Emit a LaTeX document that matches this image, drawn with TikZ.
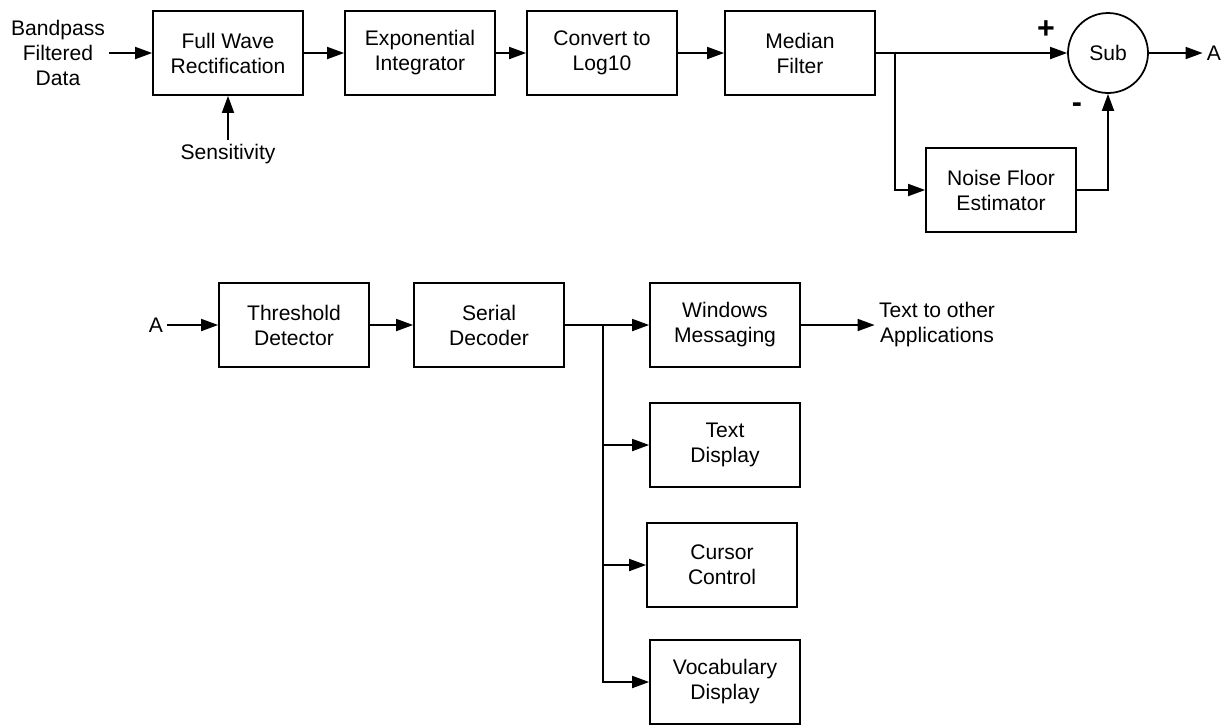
\documentclass[tikz,border=0pt]{standalone}
\usepackage{fontspec}
\setmainfont{Liberation Sans}
\usetikzlibrary{arrows.meta}
\tikzset{>={Triangle[length=0.34cm,width=0.24cm]}}
\tikzset{block/.style={draw,line width=1pt,minimum width=3cm,minimum height=1.68cm,align=center},
         lbl/.style={align=center,inner sep=2pt},
         every node/.style={font=\fontsize{12}{14.2}\selectfont}}

\begin{document}
\begin{tikzpicture}[x=0.02cm,y=-0.02cm,line width=1pt]
\useasboundingbox (0,0) rectangle (1227,725);
\node[lbl] (input) at (58,53) {Bandpass\\Filtered\\Data};
\node[block] (fwr) at (228,53) {Full Wave\\Rectification};
\node[lbl] (sens) at (228,154) {Sensitivity};
\node[block] (expo) at (420,53) {Exponential\\Integrator};
\node[block] (logten) at (602,53) {Convert to\\Log10};
\node[block] (median) at (800,53) {Median\\Filter};
\node[draw,circle,line width=1pt,minimum size=1.6cm] (sub) at (1108,53) {Sub};
\node[lbl] (outA) at (1214,53) {A};
\node[lbl,font=\bfseries\LARGE] (plus) at (1046,30) {+};
\node[lbl,font=\bfseries\LARGE] (minus) at (1077,108) {-};
\node[block] (noise) at (1001,190) {Noise Floor\\Estimator};
\coordinate (split) at (895,53);
\draw[->] (input.east) -- (fwr.west);
\draw[->] (sens.north) -- (fwr.south);
\draw[->] (fwr.east) -- (expo.west);
\draw[->] (expo.east) -- (logten.west);
\draw[->] (logten.east) -- (median.west);
\draw[->] (median.east) -- (sub.west);
\draw[->] (split) |- (noise.west);
\draw[->] (noise.east) -| (sub.south);
\draw[->] (sub.east) -- (outA.west);

\node[lbl] (inA) at (156,325) {A};
\node[block] (thresh) at (294,325) {Threshold\\Detector};
\node[block] (serial) at (489,325) {Serial\\Decoder};
\node[block] (win) at (725,325) {Windows\\Messaging};
\node[lbl] (apps) at (937,325) {Text to other\\Applications};
\node[block] (txt) at (725,445) {Text\\Display};
\node[block] (cursor) at (722,565) {Cursor\\Control};
\node[block] (vocab) at (725,682) {Vocabulary\\Display};
\coordinate (bus) at (603,325);
\draw[->] (inA.east) -- (thresh.west);
\draw[->] (thresh.east) -- (serial.west);
\draw (serial.east) -- (bus);
\draw[->] (bus) -- (win.west);
\draw[->] (win.east) -- (apps.west);
\foreach \b in {txt,cursor,vocab}
\draw[->] (bus) |- (\b.west);
\end{tikzpicture}
\end{document}
